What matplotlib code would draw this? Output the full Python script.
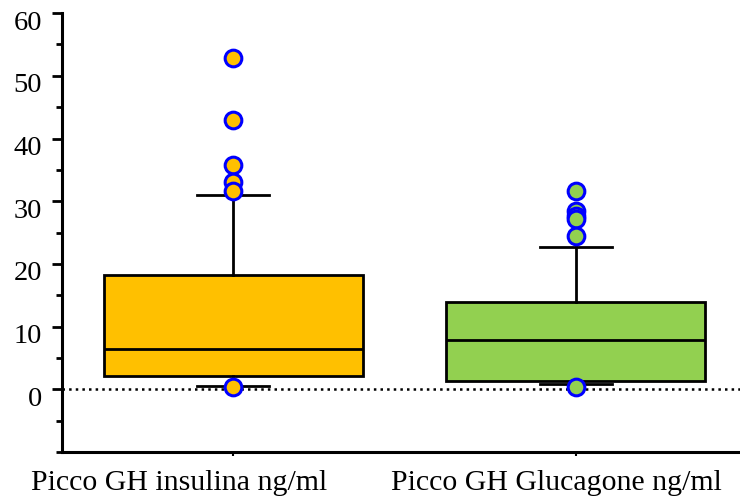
import matplotlib.pyplot as plt
from matplotlib.ticker import MultipleLocator
from matplotlib.transforms import ScaledTranslation

plt.rcParams['font.family'] = ['Liberation Serif', 'DejaVu Serif']

# Summary statistics for each GH stimulation test (ng/ml)
labels = ['Picco GH insulina ng/ml', 'Picco GH Glucagone ng/ml']
medians = [6.5, 7.9]
q1 = [2.2, 1.4]
q3 = [18.2, 13.9]
whisk_lo = [0.5, 0.8]
whisk_hi = [31.0, 22.7]
outliers = [
    [52.8, 42.9, 35.7, 33.1, 31.6, 0.4],
    [31.7, 28.4, 27.7, 27.1, 24.4, 0.4],
]
colors = ['#FFC000', '#92D050']

stats = []
for i in range(len(labels)):
    stats.append({
        'med': medians[i], 'q1': q1[i], 'q3': q3[i],
        'whislo': whisk_lo[i], 'whishi': whisk_hi[i],
        'fliers': outliers[i], 'label': labels[i],
    })

fig = plt.figure(figsize=(7.4, 5.04), dpi=100)
ax = fig.add_axes([0.084, 0.103, 0.916, 0.871])

ax.axhline(0, color='black', linestyle=':', linewidth=1.8, zorder=1)

lw = 2.0
bp = ax.bxp(stats, positions=[1, 2], widths=0.755, patch_artist=True,
            boxprops=dict(linewidth=lw, edgecolor='black'),
            medianprops=dict(color='black', linewidth=lw),
            whiskerprops=dict(color='black', linewidth=lw),
            capprops=dict(color='black', linewidth=lw),
            capwidths=0.21,
            flierprops=dict(marker='o', markersize=12, markeredgecolor='#0000FF',
                            markeredgewidth=2.2))
for box, fl, c in zip(bp['boxes'], bp['fliers'], colors):
    box.set_facecolor(c)
    box.set_zorder(2)
    fl.set_markerfacecolor(c)
    fl.set_zorder(3)

ax.set_xlim(0.5, 2.48)
ax.set_ylim(-10, 60)
ax.yaxis.set_minor_locator(MultipleLocator(5))
ax.set_yticks(range(0, 61, 10))
ax.tick_params(axis='y', which='major', length=7.5, width=2.0, labelsize=20.5, pad=7)
ax.tick_params(axis='y', which='minor', length=4, width=2.0)
ax.tick_params(axis='x', length=3, width=1.5, labelsize=21.5, pad=10)

# y labels sit a little below their ticks; x labels shifted left
for lab in ax.get_yticklabels():
    lab.set_transform(lab.get_transform() + ScaledTranslation(0, -0.07, fig.dpi_scale_trans))
for lab, dx in zip(ax.get_xticklabels(), [-0.54, -0.19]):
    lab.set_transform(lab.get_transform() + ScaledTranslation(dx, 0, fig.dpi_scale_trans))

for side in ['top', 'right']:
    ax.spines[side].set_visible(False)
ax.spines['left'].set_linewidth(2.2)
ax.spines['bottom'].set_linewidth(2.2)

plt.savefig('out.png', dpi=100)
